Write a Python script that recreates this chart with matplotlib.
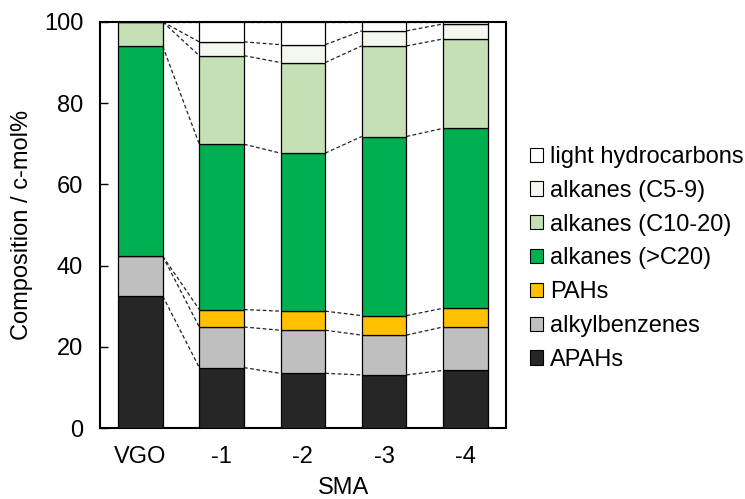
import numpy as np
import matplotlib.pyplot as plt
from matplotlib.patches import Patch

plt.rcParams['font.family'] = ['Liberation Sans', 'DejaVu Sans']
plt.rcParams['font.size'] = 17

# Data (c-mol%), stacked bottom -> top
samples = ["VGO", "-1", "-2", "-3", "-4"]
layers = ["APAHs", "alkylbenzenes", "PAHs", "alkanes (>C20)",
          "alkanes (C10-20)", "alkanes (C5-9)", "light hydrocarbons"]
apahs = [32.5, 14.9, 13.5, 13.1, 14.2]
alkylbenzenes = [9.8, 10.0, 10.6, 9.8, 10.7]
pahs = [0.0, 4.3, 4.7, 4.8, 4.6]
alkanes_c20 = [51.7, 40.7, 38.9, 44.1, 44.3]
alkanes_c10 = [6.0, 21.8, 22.3, 22.3, 22.0]
alkanes_c5 = [0.0, 3.4, 4.4, 3.7, 3.7]
light = [0.0, 4.9, 5.6, 2.2, 0.5]

colors = ["#262626", "#BFBFBF", "#FFC000", "#00B050",
          "#C5E0B4", "#F4F8EE", "#FFFFFF"]

values = [apahs, alkylbenzenes, pahs, alkanes_c20, alkanes_c10, alkanes_c5, light]

fig = plt.figure(figsize=(7.45, 4.99), dpi=100)
ax = fig.add_axes([0.134, 0.142, 0.545, 0.814])

x = np.arange(len(samples))
width = 0.55
bottom = np.zeros(len(samples))
for vals, col in zip(values, colors):
    vals = np.array(vals)
    ax.bar(x, vals, width, bottom=bottom, color=col, edgecolor="black",
           linewidth=0.9, zorder=3)
    top = bottom + vals
    # dashed connectors between adjacent bars
    for i in range(len(samples) - 1):
        ax.plot([x[i] + width / 2, x[i + 1] - width / 2], [top[i], top[i + 1]],
                color="#222222", linestyle=(0, (3, 2)), linewidth=0.9, zorder=2)
    bottom = top

ax.set_xlim(-0.5, 4.5)
ax.set_ylim(0, 100)
ax.set_yticks(range(0, 101, 20))
ax.set_xticks(x)
ax.set_xticklabels(samples)
ax.tick_params(axis="y", direction="in", length=6, width=1, pad=12)
ax.tick_params(axis="x", length=0, pad=13)
for sp in ax.spines.values():
    sp.set_linewidth(1.5)
ax.set_ylabel("Composition / c-mol%", labelpad=8)
ax.text(2.5, -0.12, "SMA", transform=ax.get_xaxis_transform(),
        ha="center", va="top")

handles = [Patch(facecolor=c, edgecolor="black", linewidth=0.8, label=l)
           for c, l in zip(colors, layers)][::-1]
fig.legend(handles=handles, loc="center left", bbox_to_anchor=(0.683, 0.482),
           frameon=False, handlelength=0.55, handleheight=0.55,
           handletextpad=0.3, labelspacing=0.5)

fig.savefig("out.png", dpi=100)
